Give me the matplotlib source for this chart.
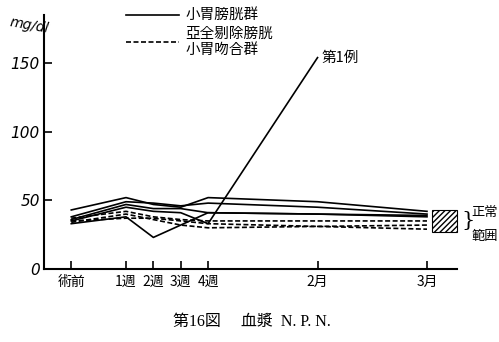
import matplotlib.pyplot as plt
from matplotlib.patches import Rectangle
from matplotlib.lines import Line2D

plt.rcParams['font.family'] = ['DejaVu Sans', 'Noto Sans CJK JP']

# x positions in weeks after operation (術前 = -1)
x_pos = [-1, 1, 2, 3, 4, 8, 12]
x_labels = ['術前', '1週', '2週', '3週', '4週', '2月', '3月']

# 小胃膀胱群 (solid)
solid_1 = [43, 52, 47, 45, 52, 49, 42]
solid_2 = [38, 49, 48, 46, 48, 45, 40]
solid_3 = [36, 47, 44, 44, 41, 40, 38]
solid_4 = [33, 38, 23, 32, 41, 40, 39]
case_1 = [35, 45, 42, 41, 33, 154]

# 亞全剔除膀胱小胃吻合群 (dashed)
dashed_1 = [37, 42, 38, 36, 35, 35, 35]
dashed_2 = [34, 40, 36, 32, 30, 31, 32]
dashed_3 = [35, 37, 37, 35, 33, 31, 29]

normal_low, normal_high = 27, 43

fig = plt.figure(figsize=(4.99, 3.42), dpi=100)
ax = fig.add_axes([0.088, 0.2135, 0.828, 0.7425])

for ys in [solid_1, solid_2, solid_3, solid_4]:
    ax.plot(x_pos, ys, color='black', lw=1.2)
ax.plot(x_pos[:len(case_1)], case_1, color='black', lw=1.2)
for ys in [dashed_1, dashed_2, dashed_3]:
    ax.plot(x_pos, ys, color='black', lw=1.2, ls=(0, (3, 1.5)))

ax.text(8.15, 154, '第1例', fontsize=10.5, family=['Noto Sans CJK JP'],
        va='center', ha='left')

# normal range box
ax.add_patch(Rectangle((12.17, normal_low), 0.93, normal_high - normal_low,
                       facecolor='white', edgecolor='black', hatch='//////',
                       lw=0.8, clip_on=False))
ax.text(13.25, (normal_low + normal_high) / 2, '}', fontsize=15,
        va='center', ha='left', family=['DejaVu Serif'])
ax.text(13.62, 41, '正常', fontsize=9.5, va='center', ha='left',
        family=['Noto Sans CJK JP'])
ax.text(13.62, 23.5, '範囲', fontsize=9.5, va='center', ha='left',
        family=['Noto Sans CJK JP'])

ax.set_xlim(-2, 13.1)
ax.set_ylim(0, 185)
ax.set_xticks(x_pos)
ax.set_xticklabels(x_labels, family=['Noto Sans CJK JP'], fontsize=10)
ax.set_yticks([0, 50, 100, 150])
ax.set_yticklabels(['0', '50', '100', '150'], fontsize=11, style='italic')
ax.tick_params(direction='in', length=6, width=1.2, color='black')
ax.tick_params(axis='x', pad=4)
ax.tick_params(axis='y', pad=3)
for side in ['top', 'right']:
    ax.spines[side].set_visible(False)
for side in ['left', 'bottom']:
    ax.spines[side].set_linewidth(1.5)

fig.text(0.018, 0.905, 'mg/dl', fontsize=10, style='italic', rotation=-10)

handles = [Line2D([], [], color='black', lw=1.2),
           Line2D([], [], color='black', lw=1.2, ls=(0, (3, 1.5)))]
fig.legend(handles, ['小胃膀胱群', '亞全剔除膀胱\n小胃吻合群'],
           loc='upper left', bbox_to_anchor=(0.235, 1.0), frameon=False,
           handlelength=3.6, prop={'family': ['Noto Sans CJK JP'], 'size': 10.5},
           labelspacing=0.25, handletextpad=0.45, borderaxespad=0.2)

fig.text(0.505, 0.058, '第16図　 血漿  N. P. N.', fontsize=11.5, ha='center',
         va='center', family=['Liberation Serif', 'Noto Sans CJK JP'])

fig.savefig('out.png', dpi=100)
